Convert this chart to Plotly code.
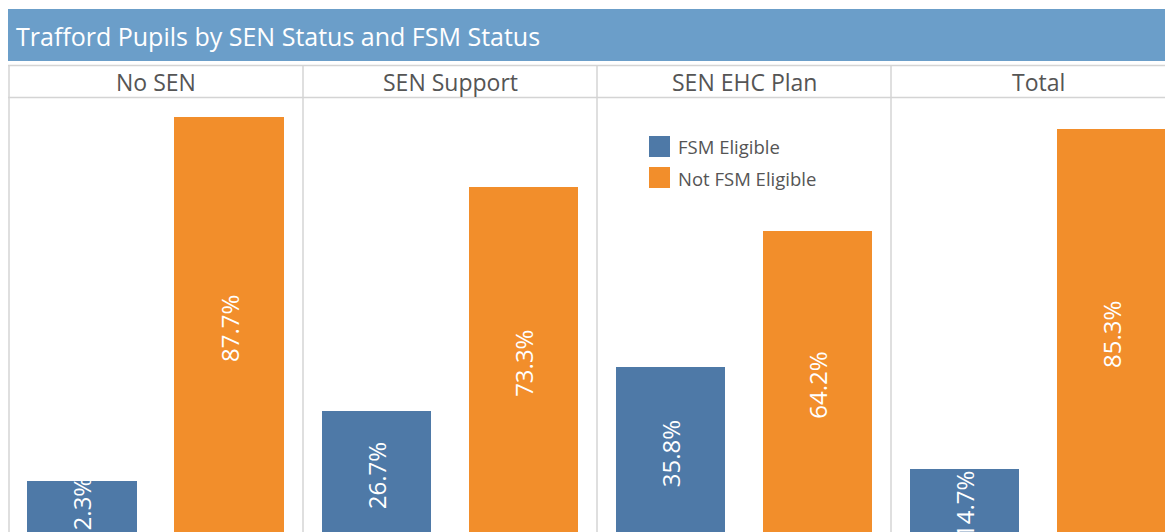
import plotly.graph_objects as go

# ---- data ----
categories = ["No SEN", "SEN Support", "SEN EHC Plan", "Total"]
series_names = ["FSM Eligible", "Not FSM Eligible"]
fsm_eligible = [12.3, 26.7, 35.8, 14.7]
not_fsm_eligible = [87.7, 73.3, 64.2, 85.3]
title_text = "Trafford Pupils by SEN Status and FSM Status"

# ---- style ----
W, H = 1173, 532
BLUE = "#4e79a7"
ORANGE = "#f28e2b"
TITLE_BG = "#6b9ec9"
GRID = "#d4d4d4"
TXT = "#555555"
FONT = "Open Sans"

def px(x):
    return x / W

def py(y):
    return 1 - y / H

# figure-pixel coordinates (page is offset by 8px body margin)
panel_edges = [0, 295, 589, 883, 1177]
plot_top = 90
baseline = 532
scale = 4.82

fig = go.Figure()
annotations = []
shapes = []

for i, cat in enumerate(categories):
    n = i + 1
    xa = "x" if n == 1 else f"x{n}"
    ya = "y" if n == 1 else f"y{n}"
    left, right = panel_edges[i], panel_edges[i + 1]
    full_w = right - left
    vis_right = min(right, W)
    xr_hi = -0.5 + 2 * (vis_right - left) / full_w
    vals = [fsm_eligible[i], not_fsm_eligible[i]]
    fig.add_trace(go.Bar(
        x=[0, 1], y=vals, width=0.745,
        marker=dict(color=[BLUE, ORANGE], line=dict(width=0)),
        xaxis=xa, yaxis=ya, showlegend=False, hoverinfo="skip",
    ))
    axis_key = "xaxis" if n == 1 else f"xaxis{n}"
    yaxis_key = "yaxis" if n == 1 else f"yaxis{n}"
    fig.update_layout(**{
        axis_key: dict(domain=[px(left), px(vis_right)], range=[-0.5, xr_hi],
                       visible=False, fixedrange=True, anchor=ya),
        yaxis_key: dict(domain=[0, py(plot_top)],
                        range=[(baseline - H) / scale, (baseline - plot_top) / scale],
                        visible=False, fixedrange=True, anchor=xa),
    })
    for xv, v in zip([0, 1], vals):
        annotations.append(dict(
            x=xv, y=v / 2, xref=xa, yref=ya, text=f"{v:.1f}%",
            textangle=-90, showarrow=False,
            font=dict(family=FONT, size=24, color="white"),
        ))
    # header label
    annotations.append(dict(
        x=px((left + right) / 2), y=py(74), xref="paper", yref="paper",
        text=cat, showarrow=False, xanchor="center", yanchor="middle",
        font=dict(family=FONT, size=23, color=TXT),
    ))
    # vertical divider
    xline = max(left, 1)
    shapes.append(dict(type="line", xref="paper", yref="paper",
                       x0=px(xline), x1=px(xline), y0=py(57), y1=0,
                       line=dict(color=GRID, width=1.5)))

# title bar
shapes.append(dict(type="rect", xref="paper", yref="paper",
                   x0=0, x1=1, y0=py(53), y1=py(1),
                   fillcolor=TITLE_BG, line=dict(width=0), layer="below"))
annotations.append(dict(
    x=px(6), y=py(28), xref="paper", yref="paper", text=title_text,
    showarrow=False, xanchor="left", yanchor="middle",
    font=dict(family=FONT, size=25, color="white"),
))
# header horizontal lines
for yy in [57.5, 89.5]:
    shapes.append(dict(type="line", xref="paper", yref="paper",
                       x0=0, x1=1, y0=py(yy), y1=py(yy),
                       line=dict(color=GRID, width=1.5)))

# legend (drawn manually)
for k, (name, col) in enumerate(zip(series_names, [BLUE, ORANGE])):
    top = 128 + k * 31
    shapes.append(dict(type="rect", xref="paper", yref="paper",
                       x0=px(641), x1=px(662), y0=py(top + 21), y1=py(top),
                       fillcolor=col, line=dict(width=0)))
    annotations.append(dict(
        x=px(668), y=py(top + 11), xref="paper", yref="paper", text=name,
        showarrow=False, xanchor="left", yanchor="middle",
        font=dict(family=FONT, size=18.5, color=TXT),
    ))

fig.update_layout(
    width=W, height=H, margin=dict(l=0, r=0, t=0, b=0),
    paper_bgcolor="white", plot_bgcolor="white",
    annotations=annotations, shapes=shapes, showlegend=False,
    bargap=0,
)

fig.write_html("out.html")
